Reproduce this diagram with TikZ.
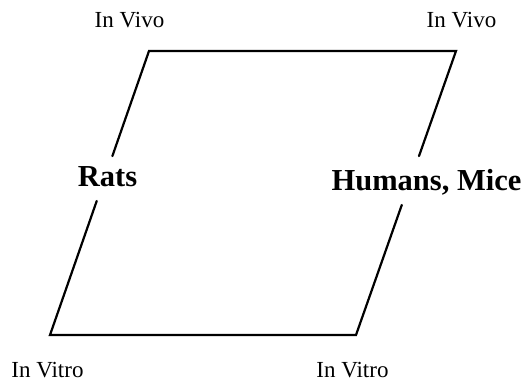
\documentclass[tikz,border=0pt]{standalone}
\usepackage{fontspec}
\setmainfont{Liberation Serif}
\usetikzlibrary{calc}
\begin{document}
\begin{tikzpicture}[x=1pt,y=-1pt,
  side/.style={line width=2.2pt, line cap=round, line join=miter},
  small/.style={font=\fontsize{23}{27}\selectfont, anchor=base, inner sep=0pt},
  big/.style={font=\bfseries\fontsize{30.5}{36}\selectfont, anchor=base, inner sep=0pt}]
\useasboundingbox (0,0) rectangle (528,383);
\coordinate (TL) at (149,51);
\coordinate (TR) at (456,51);
\coordinate (BR) at (356,335);
\coordinate (BL) at (50,335);
\node[small] (vivoL) at (129.5,27) {In Vivo};
\node[small] (vivoR) at (461.5,27) {In Vivo};
\node[small] (vitroL) at (47.5,377.5) {In Vitro};
\node[small] (vitroR) at (352.5,377) {In Vitro};
\node[big] (rats) at (107.5,186) {Rats};
\node[big] (hm) at (426.5,190) {Humans, Mice};
\draw[side] ($(TL)!0.370!(BL)$) -- (TL) -- (TR) -- ($(TR)!0.370!(BR)$);
\draw[side] ($(TL)!0.528!(BL)$) -- (BL) -- (BR) -- ($(TR)!0.542!(BR)$);
\end{tikzpicture}
\end{document}
